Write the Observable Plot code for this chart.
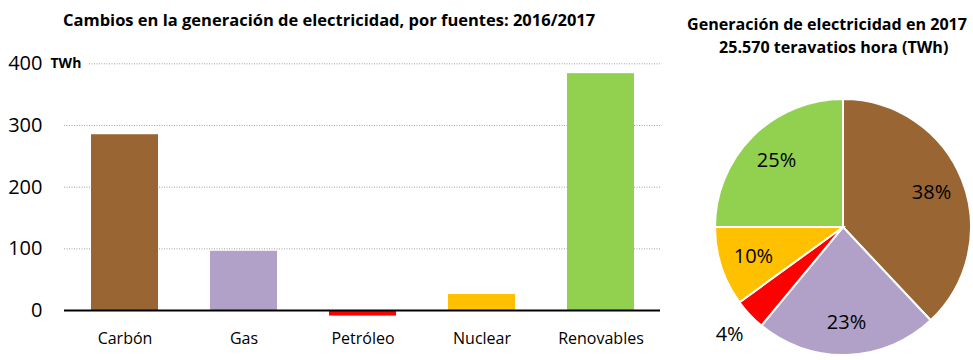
<!DOCTYPE html>
<html>
<head>
<meta charset="utf-8">
<script src="https://cdn.jsdelivr.net/npm/d3@7"></script>
<script src="https://cdn.jsdelivr.net/npm/@observablehq/plot@0.6"></script>
<style>
  html, body { margin: 0; padding: 0; background: #fff; }
  #wrap { position: relative; width: 973px; height: 360px; overflow: hidden; font-family: "Open Sans", sans-serif; color: #000; }
  .title { position: absolute; font-weight: bold; font-size: 16.5px; line-height: 1; white-space: nowrap; }
  #bar { position: absolute; left: 0; top: 0; }
  #pie { position: absolute; left: 680px; top: 0; }
</style>
</head>
<body>
<div id="wrap">
  <div class="title" id="t1" style="left:63px; top:12px;">Cambios en la generación de electricidad, por fuentes: 2016/2017</div>
  <div class="title" id="t2" style="left:687px; top:16px; font-size:16.1px;">Generación de electricidad en 2017</div>
  <div class="title" id="t3" style="left:719px; top:39px; font-size:16.1px;">25.570 teravatios hora (TWh)</div>
  <div id="bar"></div>
  <div id="pie"></div>
</div>
<script>
// ---- data ----
const categories = ["Carbón", "Gas", "Petróleo", "Nuclear", "Renovables"];
const changes2016to2017 = [285, 96, -9, 26, 384];   // TWh
const share2017 = [38, 23, 4, 10, 25];                // %
const colors = ["#996633", "#B1A0C7", "#FF0000", "#FFC000", "#92D050"];
const yTicks = [0, 100, 200, 300, 400];
const unitLabel = "TWh";

const bars = categories.map((c, i) => ({ fuente: c, valor: changes2016to2017[i] }));

const font = "'Open Sans', sans-serif";

const barChart = Plot.plot({
  width: 670,
  height: 360,
  marginLeft: 64,
  marginRight: 10,
  marginTop: 63.3,
  marginBottom: 50,
  style: { fontFamily: font, background: "transparent", color: "#000" },
  x: { domain: categories, paddingInner: 0.437, paddingOuter: 0.2185, axis: null },
  y: { domain: [0, 400], axis: null },
  color: { domain: categories, range: colors },
  marks: [
    Plot.ruleY(yTicks.filter(d => d !== 0), { stroke: "#a0a0a0", strokeWidth: 1, strokeDasharray: "1,1.5" }),
    Plot.barY(bars, { x: "fuente", y: "valor", fill: "fuente" }),
    Plot.ruleY([0], { stroke: "#000", strokeWidth: 2 }),
    Plot.text(yTicks, { y: d => d, text: d => String(d), frameAnchor: "left", dx: -22, textAnchor: "end", fontSize: 20, fill: "#000" }),
    Plot.text([unitLabel], { y: [400], text: d => d, frameAnchor: "left", dx: -14, textAnchor: "start", fontSize: 14, fontWeight: "bold", fill: "#000", stroke: "#fff", strokeWidth: 14 }),
    Plot.text(categories, { x: d => d, text: d => d, frameAnchor: "bottom", dy: 33, fontSize: 16, fill: "#000" })
  ]
});
document.getElementById("bar").appendChild(barChart);

// ---- pie ----
const pieData = d3.pie().sort(null).value(d => d.share)(
  categories.map((c, i) => ({ fuente: c, share: share2017[i] }))
);
const radiusPx = 128;
const cx = 163, cy = 227;

const pieChart = Plot.plot({
  width: 293,
  height: 360,
  margin: 0,
  style: { fontFamily: font, background: "transparent", color: "#000" },
  x: { domain: [-1, 1], range: [cx - radiusPx, cx + radiusPx], axis: null },
  y: { domain: [-1, 1], range: [cy - radiusPx, cy + radiusPx], axis: null },
  marks: [
    (index, scales) => {
      const x0 = scales.x(0), y0 = scales.y(0), r = scales.x(1) - scales.x(0);
      const arc = d3.arc().innerRadius(0).outerRadius(r);
      const g = d3.create("svg:g").attr("transform", `translate(${x0},${y0})`);
      g.selectAll("path").data(pieData).join("path")
        .attr("d", arc)
        .attr("fill", d => colors[categories.indexOf(d.data.fuente)])
        .attr("stroke", "#fff")
        .attr("stroke-width", 2);
      return g.node();
    },
    Plot.text(pieData, {
      x: d => { const a = (d.startAngle + d.endAngle) / 2; const k = d.data.share < 5 ? 1.22 : 0.74; return k * Math.sin(a); },
      y: d => { const a = (d.startAngle + d.endAngle) / 2; const k = d.data.share < 5 ? 1.22 : 0.74; return -k * Math.cos(a); },
      text: d => d.data.share + "%",
      fontSize: 20,
      fill: "#000"
    })
  ]
});
document.getElementById("pie").appendChild(pieChart);
</script>
</body>
</html>
